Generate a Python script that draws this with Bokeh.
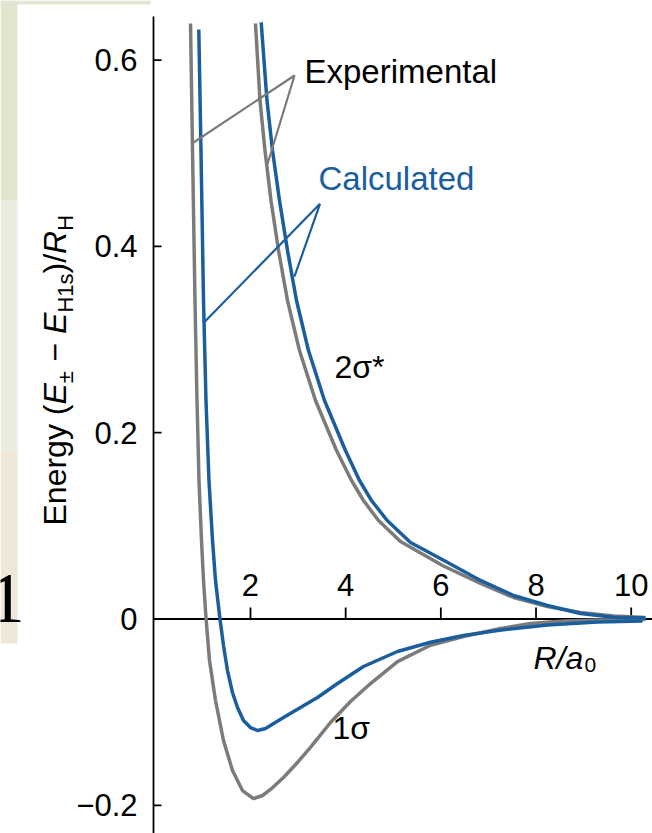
import numpy as np
from bokeh.plotting import figure
from bokeh.models import Range1d
from bokeh.core.properties import value
from bokeh.embed import file_html
from bokeh.resources import INLINE

# ---------------- data ----------------
# 1 sigma, experimental (grey)
exp_1s_R = [0.740, 0.782, 0.834, 0.876, 0.918, 0.971, 1.013, 1.065, 1.139, 1.265, 1.433,
            1.622, 1.832, 2.063, 2.252, 2.421, 2.694, 2.988, 3.261, 3.681, 4.102, 4.522,
            5.089, 5.783, 6.476, 7.254, 7.884, 8.577, 9.350, 10.300]
exp_1s_E = [0.6393, 0.5029, 0.3419, 0.2346, 0.1487, 0.0843, 0.0413, 0.0016, -0.0445, -0.0875, -0.1304,
            -0.1627, -0.1842, -0.1928, -0.1895, -0.1830, -0.1701, -0.1540, -0.1379, -0.1111, -0.0886, -0.0693,
            -0.0457, -0.0282, -0.0188, -0.0102, -0.0048, -0.0021, -0.0011, -0.0005]
# 1 sigma, calculated (blue)
calc_1s_R = [0.914, 0.960, 1.013, 1.065, 1.128, 1.202, 1.265, 1.355, 1.433, 1.517, 1.622,
             1.727, 1.853, 2.000, 2.148, 2.316, 2.694, 3.051, 3.408, 3.829, 4.375, 5.089,
             5.783, 6.476, 7.190, 8.241, 9.292, 10.237]
calc_1s_E = [0.6329, 0.5029, 0.3419, 0.2346, 0.1487, 0.0843, 0.0413, 0.0016, -0.0284, -0.0553, -0.0789,
             -0.0950, -0.1089, -0.1165, -0.1197, -0.1176, -0.1058, -0.0950, -0.0843, -0.0693, -0.0510, -0.0349,
             -0.0249, -0.0177, -0.0123, -0.0064, -0.0032, -0.0021]
# 2 sigma*, experimental (grey)
exp_2s_R = [2.105, 2.200, 2.305, 2.431, 2.589, 2.778, 3.030, 3.366, 3.808, 4.123, 4.375,
            4.690, 5.152, 6.035, 6.833, 7.527, 8.241, 8.934, 9.627, 10.300]
exp_2s_E = [0.6393, 0.5566, 0.5029, 0.4492, 0.3956, 0.3419, 0.2882, 0.2346, 0.1809, 0.1487, 0.1272,
            0.1057, 0.0832, 0.0574, 0.0381, 0.0231, 0.0134, 0.0070, 0.0032, 0.0016]
# 2 sigma*, calculated (blue)
calc_2s_R = [2.225, 2.347, 2.463, 2.610, 2.778, 2.967, 3.219, 3.555, 3.996, 4.291, 4.543,
             4.873, 5.363, 6.134, 6.833, 7.527, 8.241, 8.934, 9.627, 10.300]
calc_2s_E = [0.6404, 0.5566, 0.5029, 0.4492, 0.3956, 0.3419, 0.2882, 0.2346, 0.1809, 0.1487, 0.1272,
             0.1057, 0.0821, 0.0610, 0.0414, 0.0252, 0.0145, 0.0059, 0.0019, 0.0011]

x_ticks = [2, 4, 6, 8, 10]
x_tick_labels = ["2", "4", "6", "8", "10"]
y_ticks = [-0.2, 0.0, 0.2, 0.4, 0.6]
y_tick_labels = ["\u22120.2", "0", "0.2", "0.4", "0.6"]

# ---------------- styling / layout ----------------
W, H = 652, 833
X0, X1 = -3.2528, 10.4476
Y0, Y1 = -0.23027, 0.66398
GREY = "#7b7b7b"
BLUE = "#1a5e9e"
FONT = value("Liberation Sans")


def X(px):
    return X0 + px * (X1 - X0) / W


def Y(py):
    return Y1 - py * (Y1 - Y0) / H


p = figure(width=W, height=H, x_range=Range1d(X0, X1), y_range=Range1d(Y0, Y1),
           x_axis_location=None, y_axis_location=None, toolbar_location=None,
           output_backend="svg", min_border=0, outline_line_color=None,
           background_fill_color="white", border_fill_color="white")
p.grid.visible = False

# background scrap of the slide at the top-left
p.quad(left=[X(0)], right=[X(150)], top=[Y(0)], bottom=[Y(4)], color="#e4e5d2", line_color=None)
p.quad(left=[X(0)], right=[X(17)], top=[Y(0)], bottom=[Y(200)], color="#e3e4d0", line_color=None)
p.quad(left=[X(0)], right=[X(17)], top=[Y(200)], bottom=[Y(450)], color="#ecebe0", line_color=None)
p.quad(left=[X(0)], right=[X(17)], top=[Y(450)], bottom=[Y(643)], color="#efe7d7", line_color=None)
p.text(x=[X(-11.7)], y=[Y(597.5)], text=["1"], text_font=value("Liberation Serif"),
       text_font_size="72px", text_align="left", text_baseline="middle", text_color="black")

# y axis (drawn by hand)
AX = X(153)
p.segment(x0=[AX], y0=[Y(16)], x1=[AX], y1=[Y(833)], line_color="black", line_width=1.8)
p.segment(x0=[AX] * len(y_ticks), y0=y_ticks, x1=[X(161)] * len(y_ticks), y1=y_ticks,
          line_color="black", line_width=1.8)
p.text(x=[AX] * len(y_ticks), y=y_ticks, text=y_tick_labels, x_offset=-16,
       text_align="right", text_baseline="middle", text_font=FONT,
       text_font_size="31px", text_color="black")

# x axis through zero
p.segment(x0=[AX], y0=[0], x1=[X(652)], y1=[0], line_color="black", line_width=1.8)
p.segment(x0=x_ticks, y0=[0] * len(x_ticks), x1=x_ticks, y1=[Y(607)] * len(x_ticks),
          line_color="black", line_width=1.8)
p.text(x=x_ticks, y=[0] * len(x_ticks), text=x_tick_labels, y_offset=-34.5,
       text_align="center", text_baseline="middle", text_font=FONT,
       text_font_size="31px", text_color="black")

# curves
LW = 3.5
p.line(exp_1s_R, exp_1s_E, line_color=GREY, line_width=LW, line_join="round")
p.line(exp_2s_R, exp_2s_E, line_color=GREY, line_width=LW, line_join="round")
p.line(calc_1s_R, calc_1s_E, line_color=BLUE, line_width=LW, line_join="round")
p.line(calc_2s_R, calc_2s_E, line_color=BLUE, line_width=LW, line_join="round")

# leader lines
p.line([X(193), X(294), X(267)], [Y(142), Y(75), Y(163.5)], line_color=GREY, line_width=2.2)
p.line([X(203.5), X(319.5), X(294)], [Y(322), Y(203.3), Y(276)], line_color=BLUE, line_width=2.2)

# annotations
p.text(x=[X(304)], y=[Y(71)], text=["Experimental"], text_font=FONT, text_font_size="33px",
       text_color="black", text_baseline="middle")
p.text(x=[X(318)], y=[Y(178)], text=["Calculated"], text_font=FONT, text_font_size="33px",
       text_color=BLUE, text_baseline="middle")
p.text(x=[X(334)], y=[Y(366.5)], text=["2\u03c3*"], text_font=FONT, text_font_size="32px",
       text_color="black", text_baseline="middle")
p.text(x=[X(332)], y=[Y(727.5)], text=["1\u03c3"], text_font=FONT, text_font_size="32px",
       text_color="black", text_baseline="middle")
p.text(x=[X(533)], y=[Y(657)], text=["R/a"], text_font=FONT, text_font_size="32px",
       text_font_style="italic", text_color="black", text_baseline="middle")
p.text(x=[X(584)], y=[Y(664.5)], text=["0"], text_font=FONT, text_font_size="21px",
       text_color="black", text_baseline="middle")

# rotated y-axis title built from pieces (no leading/trailing spaces: SVG collapses them)
ADV = {'E': 667, 'n': 556, 'e': 556, 'r': 333, 'g': 556, 'y': 500, ' ': 278, '(': 333,
       ')': 333, '/': 278, '\u00b1': 584, '\u2212': 584, 'H': 722, '1': 556, 's': 500, 'R': 722}
F = 32
S = 22
SUB = 6.5
# (text, style, size, baseline shift, extra gap after)
pieces = [("Energy (", "normal", F, 0, 0), ("E", "italic", F, 0, 0),
          ("\u00b1", "normal", S, SUB, 278 * F / 1000), ("\u2212", "normal", F, 0, 278 * F / 1000),
          ("E", "italic", F, 0, 0), ("H1s", "normal", S, SUB, 0),
          (")/", "normal", F, 0, 0), ("R", "italic", F, 0, 0), ("H", "normal", S, SUB, 0)]
pos = 525.0
base_x = 66.0
for txt, style, size, shift, gap in pieces:
    centre_x = base_x + shift - 0.358 * size
    p.text(x=[X(centre_x)], y=[Y(pos)], text=[txt], angle=np.pi / 2,
           text_font=FONT, text_font_size=f"{size}px", text_font_style=style,
           text_align="left", text_baseline="middle", text_color="black")
    pos -= sum(ADV.get(c, 556) for c in txt) * size / 1000.0 + gap

open("out.html", "w").write(file_html(p, INLINE))
